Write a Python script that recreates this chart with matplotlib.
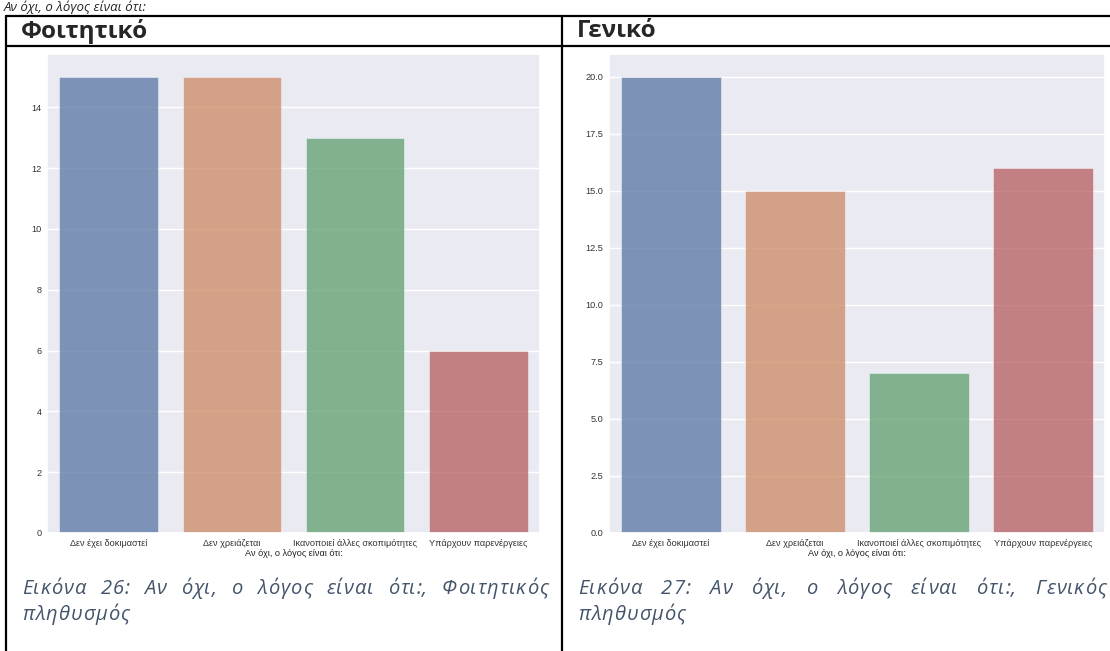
import matplotlib
matplotlib.use("Agg")
import matplotlib.pyplot as plt
import seaborn as sns
from matplotlib.lines import Line2D

# data
categories = ["Δεν έχει δοκιμαστεί", "Δεν χρειάζεται",
              "Ικανοποιεί άλλες σκοπιμότητες", "Υπάρχουν παρενέργειες"]
students = [15, 15, 13, 6]
general = [20, 15, 7, 16]
xlabel = "Αν όχι, ο λόγος είναι ότι:"
headers = ["Φοιτητικό", "Γενικό"]
captions = [["Εικόνα 26: Αν όχι, ο λόγος είναι ότι:, Φοιτητικός", "πληθυσμός"],
            ["Εικόνα 27: Αν όχι, ο λόγος είναι ότι:, Γενικός", "πληθυσμός"]]
top_text = "Αν όχι, ο λόγος είναι ότι:"

sns.set_theme(style="darkgrid")
plt.rcParams['font.family'] = ['Liberation Sans', 'DejaVu Sans']

W, H = 1110, 651
fig = plt.figure(figsize=(W / 100, H / 100), dpi=100)
fig.patch.set_facecolor("white")
renderer = fig.canvas.get_renderer()
cap_font = ["Open Sans", "DejaVu Sans"]


def box(l, t, r, b):
    return [l / W, 1 - b / H, (r - l) / W, (b - t) / H]


def hline(x0, x1, y, lw=1.6):
    fig.add_artist(Line2D([x0 / W, x1 / W], [1 - y / H, 1 - y / H], color="black", lw=lw))


def vline(x, y0, y1, lw=1.6):
    fig.add_artist(Line2D([x / W, x / W], [1 - y0 / H, 1 - y1 / H], color="black", lw=lw))


def spaced_word(word, y, track, **kw):
    # draw a word char by char with extra letter spacing, return texts and total width
    objs, ws = [], []
    for ch in word:
        t = fig.text(0, 1 - y / H, ch, va="center", ha="left", **kw)
        objs.append(t)
        ws.append(t.get_window_extent(renderer).width)
    return objs, ws, sum(ws) + track * (len(word) - 1)


def place_word(objs, ws, x, track):
    for t, w in zip(objs, ws):
        t.set_x(x / W)
        x += w + track


def caption(line1, line2, x0, x1, y1, y2, track=0.9):
    kw = dict(fontsize=14.5, style="italic", color="#44546A", family=cap_font)
    words = [spaced_word(w, y1, track, **kw) for w in line1.split(" ")]
    gap = ((x1 - x0) - sum(w[2] for w in words)) / (len(words) - 1)
    x = x0
    for objs, ws, tw in words:
        place_word(objs, ws, x, track)
        x += tw + gap
    objs, ws, _ = spaced_word(line2, y2, track, **kw)
    place_word(objs, ws, x0, track)


# table borders
hline(6, 1110, 16)
hline(6, 1110, 46)
vline(6, 16, 651)
vline(562, 16, 651)

# heading line above the table (mostly off the top in the original)
fig.text(4 / W, 1 - 1 / H, top_text, fontsize=9.5, style="italic",
         family=cap_font, va="top", ha="left")

colors = [sns.desaturate(c, 0.75) for c in sns.color_palette("deep")[:4]]

panels = [
    (students, (47, 54, 540, 533), range(0, 15, 2), "{:d}", 22, 548),
    (general, (609, 54, 1105, 533), [0, 2.5, 5, 7.5, 10, 12.5, 15, 17.5, 20], "{:.1f}", 578, 1106),
]

for i, (vals, rect, ticks, fmt, cx0, cx1) in enumerate(panels):
    ax = fig.add_axes(box(*rect))
    ax.bar(range(len(categories)), vals, width=0.8, color=colors, alpha=0.75,
           edgecolor="white", linewidth=0.4)
    ax.set_xlim(-0.5, len(categories) - 0.5)
    ax.set_ylim(0, max(vals) * 1.05)
    ax.set_yticks(list(ticks))
    ax.set_yticklabels([fmt.format(t) if fmt == "{:.1f}" else fmt.format(int(t)) for t in ticks])
    ax.set_xticks(range(len(categories)))
    ax.set_xticklabels(categories)
    ax.tick_params(axis="both", labelsize=6.6, colors="#333333", length=0, pad=4)
    ax.grid(axis="x", visible=False)
    ax.set_xlabel(xlabel, fontsize=6.6, color="#222222", labelpad=1)

    # header
    fig.text((cx0 - 1) / W, 1 - 31 / H, headers[i], fontsize=17.5, fontweight="bold",
             family=cap_font, va="center", ha="left")

    caption(captions[i][0], captions[i][1], cx0, cx1, 589, 615)

fig.savefig("out.png", dpi=100)
